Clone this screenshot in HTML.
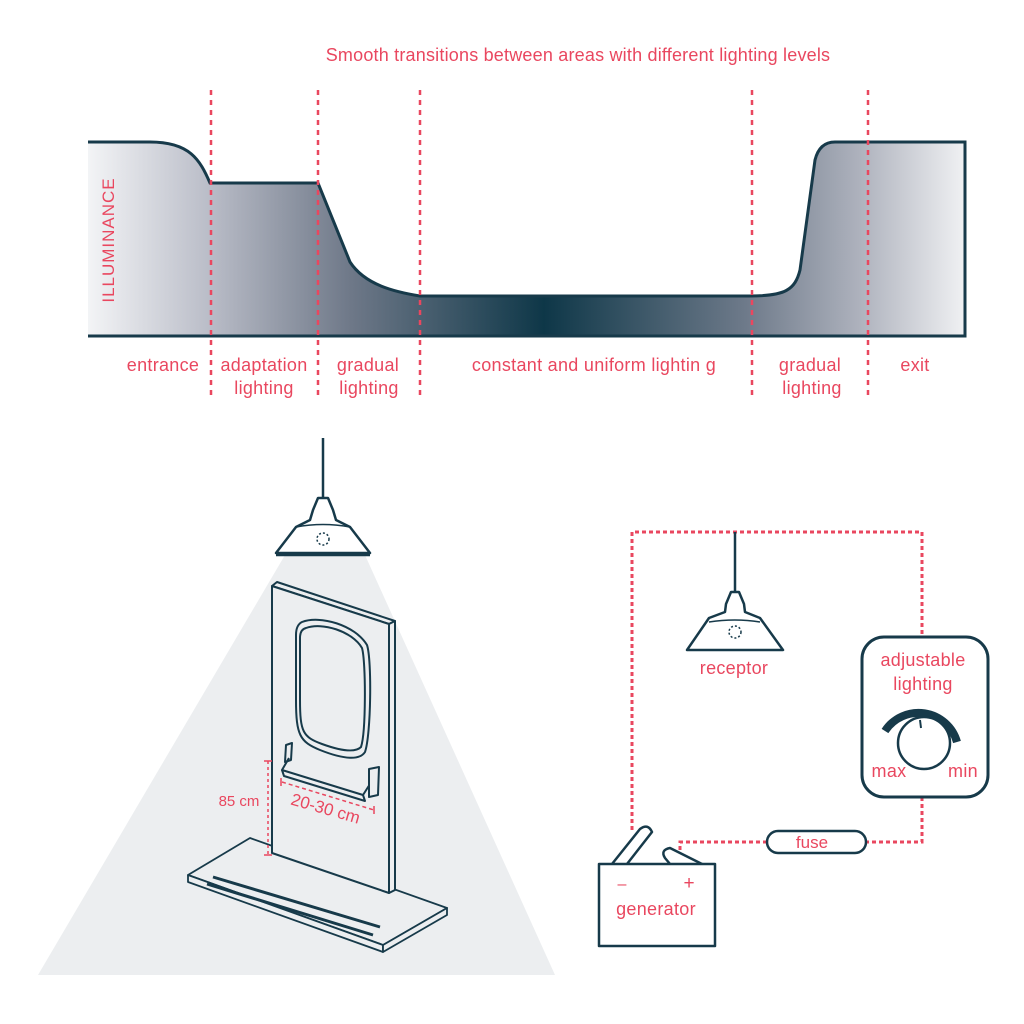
<!DOCTYPE html>
<html><head><meta charset="utf-8"><style>
html,body{margin:0;padding:0;background:#fff}
svg{display:block}
text{font-family:"Liberation Sans",sans-serif;fill:#e9475f}
</style></head><body>
<svg width="1024" height="1024" viewBox="0 0 1024 1024" xmlns="http://www.w3.org/2000/svg">
<defs>
<linearGradient id="g" x1="88" y1="0" x2="965" y2="0" gradientUnits="userSpaceOnUse">
<stop offset="0" stop-color="#f3f4f6"/>
<stop offset="0.14" stop-color="#b9bcc7"/>
<stop offset="0.3" stop-color="#6e7888"/>
<stop offset="0.52" stop-color="#0e3748"/>
<stop offset="0.75" stop-color="#6e7a8a"/>
<stop offset="0.88" stop-color="#aeb2bd"/>
<stop offset="1" stop-color="#f0f1f3"/>
</linearGradient>
</defs>
<g font-size="18.5" letter-spacing="0.2">
<text x="578" y="61" font-size="18" text-anchor="middle">Smooth transitions between areas with different lighting levels</text>
</g>
<path d="M88,142 L150,142 C190,142 200,160 210,183 L318,183 L350,262 C365,285 395,292 420,296 L750,296 C785,296 795,290 800,270 L815,160 C818,148 825,142 835,142 L965,142 L965,336 L88,336 Z" fill="url(#g)"/>
<path d="M88,142 L150,142 C190,142 200,160 210,183 L318,183 L350,262 C365,285 395,292 420,296 L750,296 C785,296 795,290 800,270 L815,160 C818,148 825,142 835,142 L965,142 L965,336 L88,336" fill="none" stroke="#173a4a" stroke-width="3"/>
<g stroke="#e9475f" stroke-width="2.5" stroke-dasharray="5,5">
<line x1="211" y1="90" x2="211" y2="400"/><line x1="318" y1="90" x2="318" y2="400"/>
<line x1="420" y1="90" x2="420" y2="400"/><line x1="752" y1="90" x2="752" y2="400"/>
<line x1="868" y1="90" x2="868" y2="400"/>
</g>
<text transform="translate(114,240) rotate(-90)" font-size="17" text-anchor="middle" letter-spacing="1">ILLUMINANCE</text>
<g font-size="18" text-anchor="middle" letter-spacing="0.3">
<text x="163" y="371">entrance</text>
<text x="264" y="371">adaptation</text><text x="264" y="394">lighting</text>
<text x="368" y="371">gradual</text><text x="369" y="394">lighting</text>
<text x="594" y="371">constant and uniform lightin g</text>
<text x="810" y="371">gradual</text><text x="812" y="394">lighting</text>
<text x="915" y="371">exit</text>
</g>
<!-- cone -->
<polygon points="285,555 365,555 555,975 38,975" fill="#eceef0"/>
<!-- lamp 1 -->
<g stroke="#173a4a" fill="#fff" stroke-width="2.5" stroke-linejoin="round">
<line x1="323" y1="438" x2="323" y2="498"/>
<path d="M318,498 L328,498 L333,510 L336,520 L350,527 L370,553 L276,553 L296,527 L310,520 L313,510 Z"/>
<path d="M296,527 Q323,522 350,527" fill="none" stroke-width="1.5"/>
<line x1="276" y1="555" x2="370" y2="555"/>
</g>
<circle cx="323" cy="539" r="6" fill="none" stroke="#173a4a" stroke-width="1.5" stroke-dasharray="2,2"/>
<!-- base -->
<g stroke="#173a4a" stroke-width="1.8" fill="#eceef0" stroke-linejoin="round">
<polygon points="188,875 250,838 447,908 383,945"/>
<polygon points="188,875 383,945 383,952 188,882"/>
<polygon points="383,945 447,908 447,915 383,952"/>
</g>
<line x1="213" y1="877" x2="380" y2="927" stroke="#173a4a" stroke-width="3"/>
<line x1="207" y1="884" x2="373" y2="935" stroke="#173a4a" stroke-width="3"/>
<!-- door -->
<g stroke="#173a4a" stroke-width="2" fill="#eceef0" stroke-linejoin="round">
<polygon points="272,586 277,582 395,621 389,624"/>
<polygon points="389,624 395,621 395,890 389,893"/>
<polygon points="272,586 389,624 389,893 272,853"/>
<path d="M302,622 C320,615 355,625 367,645 C372,660 371,735 365,752 C360,760 345,760 320,750 C300,742 296,735 296,700 L296,635 C296,628 298,624 302,622 Z"/>
<path d="M306,628 C322,622 352,631 362,648 C366,662 366,732 361,747 C356,752 344,752 322,744 C303,737 300,732 300,700 L300,638 C300,632 302,629 306,628 Z" fill="none"/>
<polygon points="286,745 292,743 291,760 285,762"/>
<path d="M289,758 L282,770 L363,795 L370,784" fill="none"/>
<path d="M282,770 L284,776 L365,801 L363,795" fill="none"/>
<polygon points="369,769 379,767 378,795 369,797"/>
</g>
<g stroke="#e9475f" stroke-width="1.5" fill="none">
<line x1="268" y1="761" x2="268" y2="855" stroke-dasharray="3,3"/>
<line x1="264" y1="761" x2="272" y2="761"/><line x1="264" y1="855" x2="272" y2="855"/>
<line x1="282" y1="782" x2="374" y2="810" stroke-dasharray="4,3"/>
<line x1="281" y1="778" x2="281" y2="786"/><line x1="374" y1="806" x2="374" y2="814"/>
</g>
<text x="239" y="806" font-size="15" text-anchor="middle">85 cm</text>
<text transform="translate(324,814) rotate(16)" font-size="17" text-anchor="middle">20-30 cm</text>
<!-- circuit -->
<g stroke="#e9475f" stroke-width="3" stroke-dasharray="4,3" fill="none">
<polyline points="632,830 632,532 922,532 922,637"/>
<polyline points="922,797 922,842 867,842"/>
<polyline points="767,842 680,842 680,850"/>
</g>
<g stroke="#173a4a" fill="#fff" stroke-width="2.5" stroke-linejoin="round">
<line x1="735" y1="532" x2="735" y2="592"/>
<path d="M731,592 L739,592 L744,604 L745,612 L760,618 L783,650 L687,650 L709,618 L725,612 L726,604 Z"/>
<path d="M709,622 Q735,618 760,622" fill="none" stroke-width="1.5"/>
</g>
<circle cx="735" cy="632" r="6" fill="none" stroke="#173a4a" stroke-width="1.5" stroke-dasharray="2,2"/>
<g font-size="18" text-anchor="middle" letter-spacing="0.3">
<text x="734" y="674">receptor</text>
</g>
<rect x="862" y="637" width="126" height="160" rx="22" fill="#fff" stroke="#173a4a" stroke-width="3"/>
<g font-size="18" text-anchor="middle" letter-spacing="0.3">
<text x="923" y="666">adjustable</text>
<text x="923" y="690">lighting</text>
</g>
<path d="M885,731 A40,40 0 0 1 957,742" fill="none" stroke="#173a4a" stroke-width="8"/>
<circle cx="924" cy="743" r="26" fill="#fff" stroke="#173a4a" stroke-width="2.5"/>
<line x1="920" y1="720" x2="921" y2="728" stroke="#173a4a" stroke-width="2"/>
<g font-size="18" text-anchor="middle" letter-spacing="0.3">
<text x="889" y="777">max</text>
<text x="963" y="777">min</text>
</g>
<rect x="767" y="831" width="99" height="22" rx="11" fill="#fff" stroke="#173a4a" stroke-width="2.5"/>
<text x="812" y="848" font-size="17" text-anchor="middle">fuse</text>
<g stroke="#173a4a" stroke-width="2.5" fill="#fff" stroke-linejoin="round">
<path d="M612,864 L640,829 Q648,823 652,832 L627,864"/>
<path d="M670,864 L665,858 Q660,850 670,848 L702,864"/>
<rect x="599" y="864" width="116" height="82"/>
</g>
<text x="622" y="889" font-size="16" text-anchor="middle">–</text>
<text x="689" y="889" font-size="19" text-anchor="middle">+</text>
<text x="656" y="915" font-size="18" text-anchor="middle" letter-spacing="0.3">generator</text>
</svg>
</body></html>
